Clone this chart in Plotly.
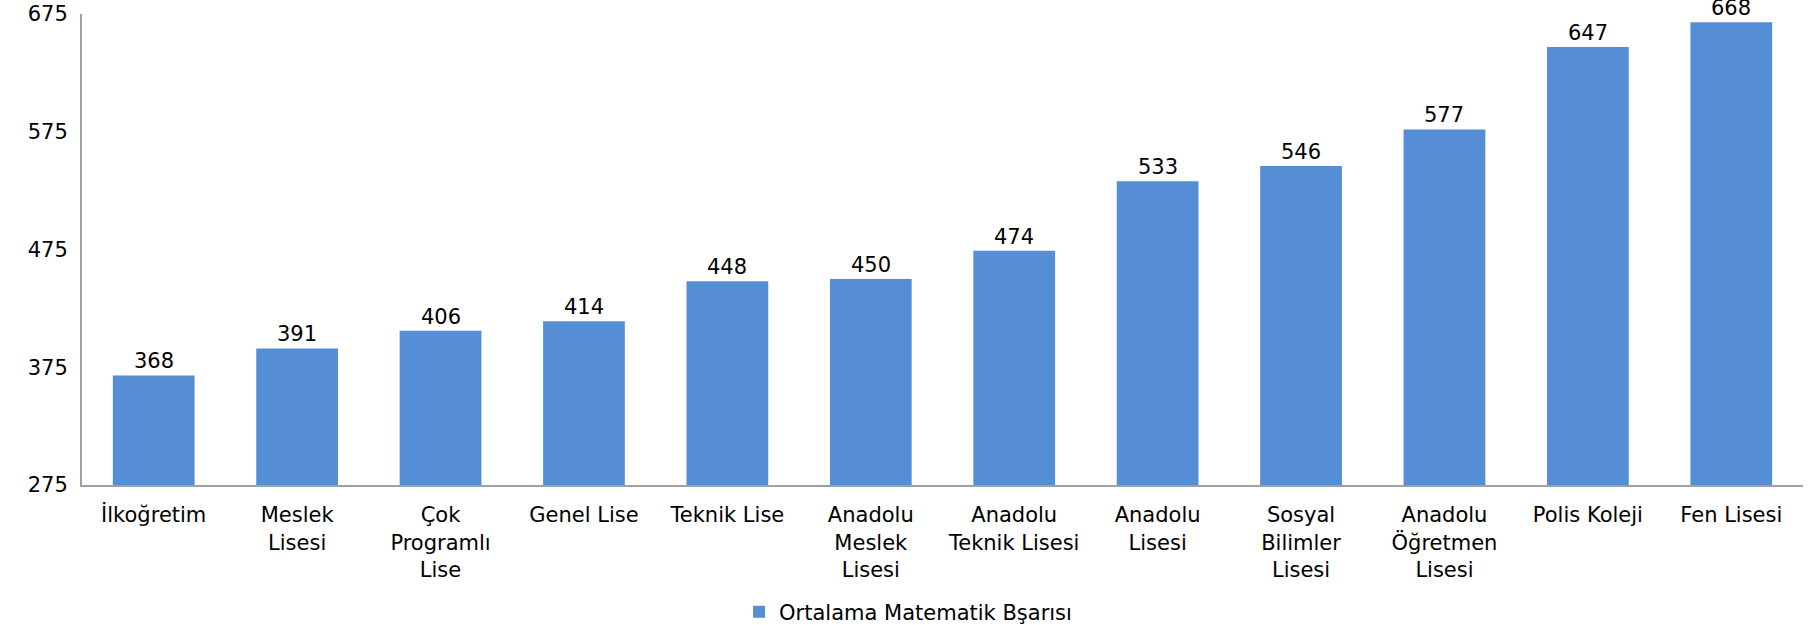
import plotly.graph_objects as go

categories = ["İlkoğretim", "Meslek<br>Lisesi", "Çok<br>Programlı<br>Lise", "Genel Lise",
              "Teknik Lise", "Anadolu<br>Meslek<br>Lisesi", "Anadolu<br>Teknik Lisesi",
              "Anadolu<br>Lisesi", "Sosyal<br>Bilimler<br>Lisesi", "Anadolu<br>Öğretmen<br>Lisesi",
              "Polis Koleji", "Fen Lisesi"]
scores = [368, 391, 406, 414, 448, 450, 474, 533, 546, 577, 647, 668]
y_ticks = [275, 375, 475, 575, 675]
series_name = "Ortalama Matematik Bşarısı"

font = dict(family="DejaVu Sans", size=21, color="#000000")
bar_color = "#558ed5"

fig = go.Figure()
fig.add_trace(go.Bar(
    x=categories,
    y=scores,
    name=series_name,
    marker=dict(color=bar_color, line=dict(width=0)),
    showlegend=True,
))

# value labels above the bars
for cat, val in zip(categories, scores):
    fig.add_annotation(x=cat, y=val, text=str(val), showarrow=False,
                       yanchor="middle", yshift=14, font=font)

fig.update_layout(
    width=1810, height=625,
    margin=dict(l=82, r=7, t=14, b=140, autoexpand=False),
    plot_bgcolor="white",
    paper_bgcolor="white",
    font=font,
    bargap=0.43,
    showlegend=True,
    legend=dict(orientation="h", x=0.48, xanchor="center", y=-0.27, yanchor="middle",
                font=font),
    xaxis=dict(showline=True, linecolor="#a0a0a0", linewidth=2, showgrid=False,
               ticks="", ticklabelstandoff=10, tickangle=0, automargin=False),
    yaxis=dict(range=[275, 675], tickvals=y_ticks, showline=True, linecolor="#a0a0a0",
               linewidth=2, showgrid=False, zeroline=False, ticks="",
               ticklabelstandoff=8, automargin=False),
)

# drop the default 8px body margin so the figure sits at the page corner
fig.write_html("out.html", config={"displayModeBar": False},
               post_script="document.body.style.margin='0';")
